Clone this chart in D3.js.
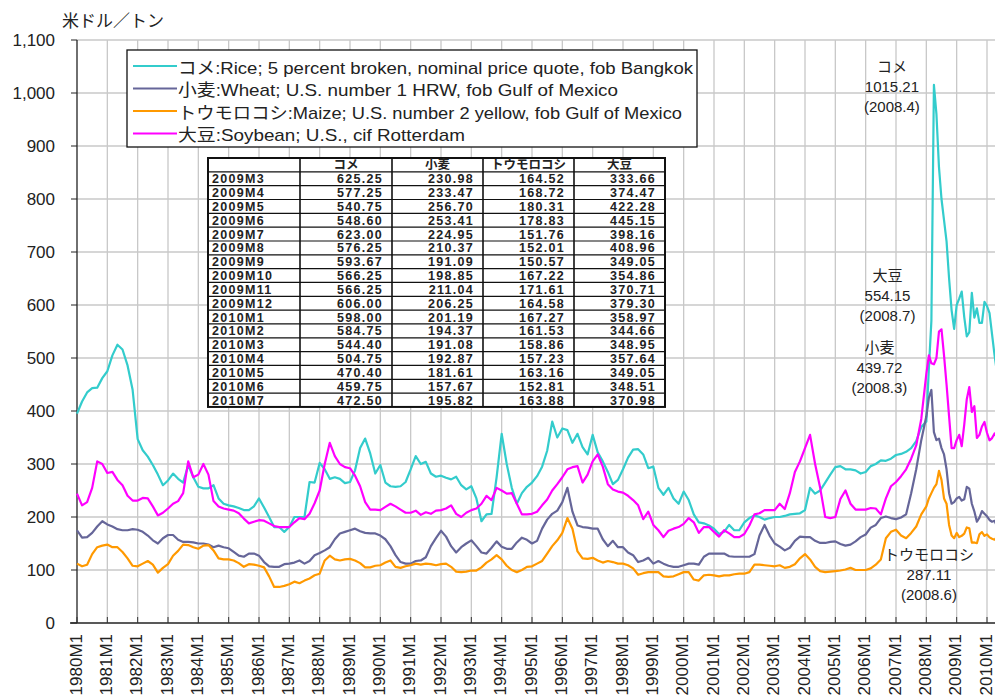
<!DOCTYPE html>
<html>
<head>
<meta charset="utf-8">
<script src="https://cdn.jsdelivr.net/npm/d3@7"></script>
<style>
  body { margin: 0; background: #fff; }
  svg { display: block; font-family: "Liberation Sans", Arial, "Noto Sans CJK JP", sans-serif; }
</style>
</head>
<body>
<svg id="chart" width="995" height="697"></svg>
<script>

// periods: every 2 months 1980-2007, then monthly 2008M1 - 2010M7
const bimonthly = [1, 3, 5, 7, 9, 11];
const periods = [];
for (let yr = 1980; yr <= 2007; yr++) bimonthly.forEach(m => periods.push([yr, m]));
for (let yr = 2008; yr <= 2010; yr++) {
  for (let m = 1; m <= 12; m++) if (yr < 2010 || m <= 7) periods.push([yr, m]);
}

const yearTicks = d3.range(1980, 2011);
const yTicks = d3.range(0, 1101, 100);

// US$/t (2009M3 onward from the table)
const rice = [
  395, 418, 435, 443, 444, 462, // 1980
  475, 505, 525, 516, 486, 440,
  347, 326, 314, 298, 280, 260,
  269, 282, 272, 265, 298, 275,
  257, 254, 254, 260, 235, 225,
  222, 220, 217, 213, 213, 220, // 1985
  235, 218, 200, 181, 181, 172,
  181, 200, 200, 200, 266, 265,
  302, 290, 272, 275, 272, 264,
  266, 288, 330, 348, 320, 282,
  298, 265, 258, 257, 258, 266, // 1990
  290, 315, 300, 304, 282, 276,
  278, 274, 271, 276, 260, 252,
  258, 235, 192, 205, 206, 275,
  357, 300, 255, 225, 245, 257,
  265, 277, 295, 325, 380, 350, // 1995
  367, 364, 340, 357, 332, 318,
  355, 322, 305, 285, 262, 270,
  290, 312, 327, 328, 318, 292,
  295, 255, 242, 255, 235, 225,
  248, 232, 205, 190, 188, 184, // 2000
  178, 168, 172, 185, 175, 175,
  190, 198, 203, 200, 195, 198,
  200, 200, 202, 205, 206, 207,
  213, 255, 244, 250, 265, 280,
  294, 296, 290, 290, 288, 282, // 2005
  285, 296, 300, 307, 306, 310,
  317, 319, 323, 330, 343, 370,
  380, 480, 570, 1015.21, 960, 860, 800, 760, 720, 650, 590, 555, // 2008
  600, 612, 625.25, 577.25, 540.75, 548.60, 623.00, 576.25, 593.67, 566.25, 566.25, 606.00,
  598.00, 584.75, 544.40, 504.75, 470.40, 459.75, 472.50
];

const wheat = [
  175, 161, 162, 170, 182, 192, // 1980
  186, 182, 177, 175, 175, 177,
  176, 172, 165, 156, 150, 160,
  166, 166, 157, 153, 153, 152,
  150, 150, 148, 143, 146, 143,
  141, 134, 127, 125, 131, 131, // 1985
  127, 115, 107, 106, 106, 111,
  112, 114, 118, 112, 117, 128,
  132, 137, 143, 158, 169, 172,
  175, 178, 173, 170, 169, 169,
  165, 158, 145, 128, 115, 112, // 1990
  112, 117, 118, 124, 145, 160,
  174, 163, 145, 133, 143, 150,
  156, 145, 133, 131, 142, 154,
  144, 140, 140, 152, 161, 157,
  150, 155, 178, 195, 206, 212, // 1995
  228, 255, 210, 184, 181, 180,
  178, 178, 158, 145, 155, 143,
  143, 133, 128, 115, 118, 123,
  112, 117, 112, 108, 106, 106,
  109, 112, 112, 110, 125, 131, // 2000
  131, 131, 131, 126, 125, 125,
  125, 125, 130, 165, 185, 165,
  150, 144, 137, 142, 155, 163,
  162, 162, 155, 151, 151, 153,
  154, 149, 146, 148, 154, 162, // 2005
  167, 180, 185, 198, 201, 198,
  196, 199, 205, 245, 290, 345,
  390, 425, 439.72, 360, 345, 348, 330, 318, 290, 245, 225, 228, // 2008
  235, 238, 230.98, 233.47, 256.70, 253.41, 224.95, 210.37, 191.09, 198.85, 211.04, 206.25,
  201.19, 194.37, 191.08, 192.87, 181.61, 157.67, 195.82
];

const maize = [
  112, 107, 110, 130, 143, 146, // 1980
  148, 143, 143, 134, 122, 108,
  107, 112, 117, 110, 95, 104,
  111, 127, 136, 148, 147, 143,
  140, 146, 147, 137, 122, 120,
  120, 118, 113, 106, 111, 110, // 1985
  108, 105, 88, 68, 68, 70,
  73, 78, 75, 80, 84, 90,
  93, 118, 127, 120, 118, 120,
  121, 118, 113, 105, 105, 108,
  109, 114, 118, 106, 104, 107, // 1990
  109, 112, 110, 112, 111, 109,
  111, 112, 106, 97, 96, 97,
  99, 99, 105, 114, 120, 128,
  120, 108, 100, 96, 100, 106,
  107, 112, 117, 131, 145, 156, // 1995
  170, 198, 178, 135, 122, 121,
  123, 118, 114, 117, 115, 112,
  112, 109, 103, 91, 94, 96,
  96, 96, 88, 87, 88, 92,
  96, 96, 82, 80, 90, 91, // 2000
  90, 88, 90, 90, 92, 93,
  93, 96, 110, 110, 109, 108,
  107, 109, 104, 106, 111, 122,
  130, 120, 106, 98, 96, 97,
  98, 99, 101, 104, 100, 100, // 2005
  100, 103, 110, 120, 160, 172,
  176, 165, 160, 170, 182, 205,
  220, 235, 245, 255, 262, 287.11, 270, 235, 225, 185, 165, 160, // 2008
  170, 162, 164.52, 168.72, 180.31, 178.83, 151.76, 152.01, 150.57, 167.22, 171.61, 164.58,
  167.27, 161.53, 158.86, 157.23, 163.16, 152.81, 163.88
];

const soybean = [
  244, 222, 228, 255, 305, 300, // 1980
  283, 285, 270, 260, 240, 231,
  231, 236, 235, 220, 203, 208,
  216, 225, 230, 245, 305, 275,
  280, 300, 280, 230, 220, 216,
  214, 212, 207, 197, 188, 191, // 1985
  194, 193, 188, 183, 181, 181,
  181, 190, 198, 196, 206, 226,
  250, 300, 340, 315, 300, 294,
  292, 278, 258, 228, 214, 214,
  213, 219, 225, 220, 214, 208, // 1990
  208, 212, 204, 209, 206, 212,
  213, 216, 222, 206, 200, 208,
  213, 216, 225, 240, 232, 255,
  250, 244, 245, 225, 205, 205,
  206, 210, 222, 233, 250, 262, // 1995
  275, 290, 294, 296, 265, 280,
  305, 318, 295, 262, 252, 248,
  246, 240, 232, 222, 196, 210,
  185, 175, 162, 174, 178, 181,
  187, 198, 190, 170, 181, 181, // 2000
  172, 163, 175, 169, 162, 162,
  168, 184, 205, 207, 213, 213,
  213, 225, 215, 245, 285, 305,
  330, 355, 300, 255, 200, 198,
  200, 234, 250, 225, 214, 214, // 2005
  214, 217, 216, 205, 235, 258,
  266, 277, 290, 310, 335, 385,
  470, 505, 490, 488, 500, 550, 554.15, 505, 450, 390, 330, 330, // 2008
  345, 355, 333.66, 374.47, 422.28, 445.15, 398.16, 408.96, 349.05, 354.86, 370.71, 379.30,
  358.97, 344.66, 348.95, 357.64, 349.05, 348.51, 370.98
];

const seriesNames = ['コメ', '小麦', 'トウモロコシ', '大豆'];
const legendLabels = [
  'コメ:Rice; 5 percent broken, nominal price quote, fob Bangkok',
  '小麦:Wheat; U.S. number 1 HRW, fob Gulf of Mexico',
  'トウモロコシ:Maize; U.S. number 2 yellow, fob Gulf of Mexico',
  '大豆:Soybean; U.S., cif Rotterdam'
];
const seriesValues = [rice, wheat, maize, soybean];
const seriesColors = ['#33CCCC', '#666699', '#FF9900', '#FF00FF'];

// peak notes: series index, value text, date text
const peakNotes = [
  { s: 0, value: '1015.21', date: '(2008.4)' },
  { s: 3, value: '554.15', date: '(2008.7)' },
  { s: 1, value: '439.72', date: '(2008.3)' },
  { s: 2, value: '287.11', date: '(2008.6)' }
];

const tableRowCount = 17; // 2009M3 - 2010M7


const svg = d3.select('#chart');

const x = d3.scaleLinear().domain([1980, 2010]).range([77, 987]);
const y = d3.scaleLinear().domain([0, 1100]).range([623, 40]);
const tOf = p => p[0] + (p[1] - 1) / 12;

// grid
const grid = svg.append('g');
grid.selectAll('.vg')
    .data(yearTicks.slice(1))
    .enter()
    .append('line')
    .attr('x1', d => x(d)).attr('x2', d => x(d))
    .attr('y1', y(1100)).attr('y2', y(0))
    .attr('stroke', '#c8c8c8')
    .attr('stroke-width', 1.3);
grid.selectAll('.hg')
    .data(yTicks.slice(1))
    .enter()
    .append('line')
    .attr('x1', x(1980)).attr('x2', 1000)
    .attr('y1', d => y(d)).attr('y2', d => y(d))
    .attr('stroke', '#c8c8c8')
    .attr('stroke-width', 1.3);

// y axis
svg.append('line')
    .attr('x1', x(1980)).attr('x2', x(1980))
    .attr('y1', y(1100)).attr('y2', y(0))
    .attr('stroke', '#222').attr('stroke-width', 1.3);
svg.selectAll('.ytick')
    .data(yTicks)
    .enter()
    .append('line')
    .attr('x1', x(1980) - 6).attr('x2', x(1980))
    .attr('y1', d => y(d)).attr('y2', d => y(d))
    .attr('stroke', '#222');
svg.selectAll('.ylab')
    .data(yTicks)
    .enter()
    .append('text')
    .attr('x', 55)
    .attr('y', d => y(d))
    .attr('text-anchor', 'end')
    .attr('dominant-baseline', 'central')
    .attr('font-size', 17)
    .attr('fill', '#222')
    .text(d => d3.format(',')(d));

// x axis
svg.append('line')
    .attr('x1', x(1980) - 7).attr('x2', 1000)
    .attr('y1', y(0)).attr('y2', y(0))
    .attr('stroke', '#222').attr('stroke-width', 1.3);
svg.selectAll('.xtick')
    .data(yearTicks)
    .enter()
    .append('line')
    .attr('x1', d => x(d)).attr('x2', d => x(d))
    .attr('y1', y(0) - 6).attr('y2', y(0))
    .attr('stroke', '#333');
svg.selectAll('.xlab')
    .data(yearTicks)
    .enter()
    .append('text')
    .attr('transform', d => `translate(${x(d) - 1}, 634) rotate(-90)`)
    .attr('text-anchor', 'end')
    .attr('dominant-baseline', 'central')
    .attr('font-size', 17)
    .attr('fill', '#222')
    .text(d => d + 'M1');

// unit
svg.append('text')
    .attr('x', 62).attr('y', 21)
    .attr('dominant-baseline', 'central')
    .attr('font-size', 17)
    .attr('fill', '#222')
    .text('米ドル／トン');

// lines
const line = d3.line()
    .x((d, i) => x(tOf(periods[i])))
    .y(d => y(d));

seriesValues.forEach((vals, k) => {
  svg.append('path')
      .datum(vals)
      .attr('d', line)
      .attr('fill', 'none')
      .attr('stroke', seriesColors[k])
      .attr('stroke-width', 2.2)
      .attr('stroke-linejoin', 'round');
});

// legend
const legend = svg.append('g');
legend.append('rect')
    .attr('x', 127).attr('y', 50)
    .attr('width', 570).attr('height', 97)
    .attr('fill', '#fff')
    .attr('stroke', '#111').attr('stroke-width', 1.3);
const legendWidths = [515, 440, 504, 287];
legendLabels.forEach((lab, k) => {
  const ly = 68 + k * 22.5;
  legend.append('line')
      .attr('x1', 133).attr('x2', 177)
      .attr('y1', ly - 2).attr('y2', ly - 2)
      .attr('stroke', seriesColors[k]).attr('stroke-width', 2.2);
  legend.append('text')
      .attr('x', 178).attr('y', ly)
      .attr('dominant-baseline', 'central')
      .attr('font-size', 17)
      .attr('fill', '#222')
      .attr('textLength', legendWidths[k])
      .attr('lengthAdjust', 'spacingAndGlyphs')
      .text(lab);
});

// data table of the latest months
const colEdges = [208, 300, 392, 483, 574, 665];
const tTop = 158, rowH = 13.83;
const firstRow = periods.length - tableRowCount;
const table = svg.append('g');
table.append('rect')
    .attr('x', colEdges[0]).attr('y', tTop)
    .attr('width', colEdges[5] - colEdges[0])
    .attr('height', rowH * (tableRowCount + 1))
    .attr('fill', '#fff');
for (let r = 1; r <= tableRowCount; r++) {
  table.append('line')
      .attr('x1', colEdges[0]).attr('x2', colEdges[5])
      .attr('y1', tTop + r * rowH).attr('y2', tTop + r * rowH)
      .attr('stroke', '#111').attr('stroke-width', 1.2);
}
colEdges.slice(1, 5).forEach(cx => {
  table.append('line')
      .attr('x1', cx).attr('x2', cx)
      .attr('y1', tTop).attr('y2', tTop + rowH * (tableRowCount + 1))
      .attr('stroke', '#111').attr('stroke-width', 1.6);
});
table.append('rect')
    .attr('x', colEdges[0]).attr('y', tTop)
    .attr('width', colEdges[5] - colEdges[0])
    .attr('height', rowH * (tableRowCount + 1))
    .attr('fill', 'none')
    .attr('stroke', '#111').attr('stroke-width', 2);

seriesNames.forEach((nm, k) => {
  table.append('text')
      .attr('x', (colEdges[k + 1] + colEdges[k + 2]) / 2)
      .attr('y', tTop + rowH / 2 + 0.5)
      .attr('text-anchor', 'middle')
      .attr('dominant-baseline', 'central')
      .attr('font-size', 12.5)
      .attr('font-weight', 'bold')
      .attr('fill', '#222')
      .text(nm);
});
for (let r = 0; r < tableRowCount; r++) {
  const p = periods[firstRow + r];
  const cy = tTop + (r + 1.5) * rowH + 0.5;
  table.append('text')
      .attr('x', colEdges[0] + 4).attr('y', cy)
      .attr('dominant-baseline', 'central')
      .attr('font-size', 12.5).attr('font-weight', 'bold')
      .attr('letter-spacing', 1.3)
      .attr('fill', '#222')
      .text(p[0] + 'M' + p[1]);
  seriesValues.forEach((vals, k) => {
    table.append('text')
        .attr('x', colEdges[k + 2] - 9).attr('y', cy)
        .attr('text-anchor', 'end')
        .attr('dominant-baseline', 'central')
        .attr('font-size', 12.5).attr('font-weight', 'bold')
        .attr('letter-spacing', 1.3)
        .attr('fill', '#222')
        .text(vals[firstRow + r].toFixed(2));
  });
}

// peak notes, placed around each series maximum
const noteOffsets = [[-42, -18], [-54, -54], [-52, -42], [-10, 84]];
peakNotes.forEach((n, k) => {
  const vals = seriesValues[n.s];
  const i = d3.maxIndex(vals);
  const px = x(tOf(periods[i])) + noteOffsets[k][0];
  const py = y(vals[i]) + noteOffsets[k][1];
  [seriesNames[n.s], n.value, n.date].forEach((t, j) => {
    svg.append('text')
        .attr('x', px).attr('y', py + j * 20)
        .attr('text-anchor', 'middle')
        .attr('dominant-baseline', 'central')
        .attr('font-size', 15)
        .attr('fill', '#222')
        .text(t);
  });
});

</script>
</body>
</html>
